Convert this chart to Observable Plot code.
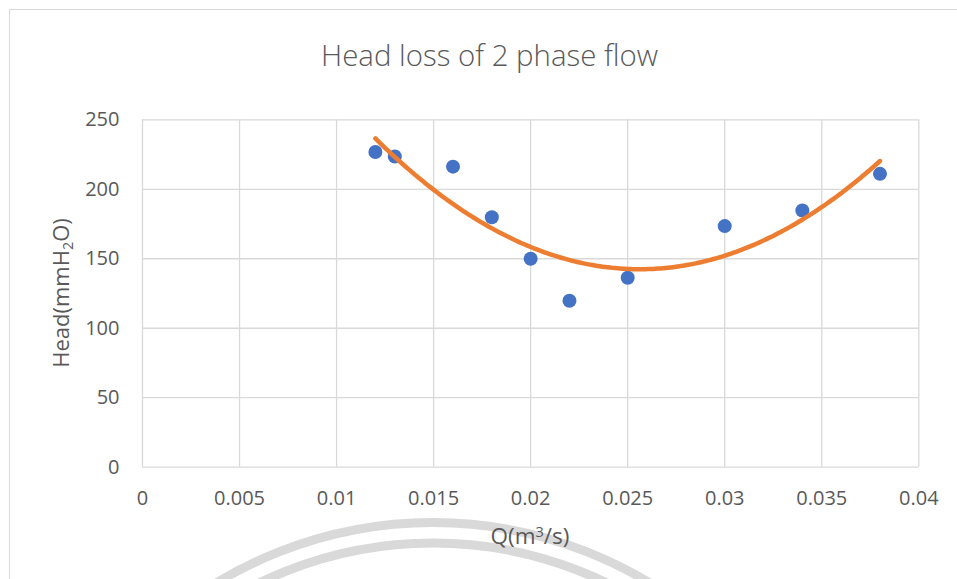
<!DOCTYPE html>
<html>
<head>
<meta charset="utf-8">
<script src="https://cdn.jsdelivr.net/npm/d3@7"></script>
<script src="https://cdn.jsdelivr.net/npm/@observablehq/plot@0.6"></script>
<style>
  html, body { margin: 0; padding: 0; background: #fff; }
  body { width: 957px; height: 579px; overflow: hidden; position: relative; font-family: "Open Sans", "Noto Sans", sans-serif; }
  #frame { position: absolute; left: 9px; top: 9px; width: 1100px; height: 800px; border: 1px solid #d9d9d9; box-sizing: border-box; }
  #wm { position: absolute; left: 0; top: 0; }
  #chart { position: absolute; left: 0; top: 0; }
  .txt { position: absolute; color: #595959; white-space: nowrap; line-height: 1; }
  #title { left: 489.5px; top: 41px; font-size: 29.4px; font-weight: 300; transform: translateX(-50%); }
  #xlabel { left: 530px; top: 536px; font-size: 22.5px; transform: translate(-50%, -50%); }
  #ylabel { left: 60px; top: 293px; font-size: 22px; transform: translate(-50%, -50%) rotate(-90deg); }
  sub { font-size: 0.65em; vertical-align: -0.25em; line-height: 0; }
  sup { font-size: 0.65em; vertical-align: 0.45em; line-height: 0; }
</style>
</head>
<body>
<div id="frame"></div>
<svg id="wm" width="957" height="579" aria-hidden="true">
  <circle cx="433" cy="941" r="418.5" fill="none" stroke="#d9d9d9" stroke-width="9"></circle>
  <circle cx="433" cy="941" r="398" fill="none" stroke="#d9d9d9" stroke-width="9"></circle>
</svg>
<div id="chart"></div>
<div id="title" class="txt">Head loss of 2 phase flow</div>
<div id="xlabel" class="txt">Q(m<sup>3</sup>/s)</div>
<div id="ylabel" class="txt">Head(mmH<sub>2</sub>O)</div>
<script>
// Data
const flowQ = [0.012, 0.013, 0.016, 0.018, 0.020, 0.022, 0.025, 0.030, 0.034, 0.038];
const headMm = [226.8, 223.6, 216.3, 179.9, 150.0, 119.8, 136.3, 173.5, 184.7, 211.1];
const xTicks = [0, 0.005, 0.01, 0.015, 0.02, 0.025, 0.03, 0.035, 0.04];
const yTicks = [0, 50, 100, 150, 200, 250];

const points = flowQ.map((q, i) => ({q, h: headMm[i]}));

// Order-2 polynomial trendline (least squares fit of the data, as Excel does)
function polyFit2(xs, ys) {
  const n = xs.length;
  const S = k => d3.sum(xs, x => x ** k);
  const T = k => d3.sum(xs, (x, i) => x ** k * ys[i]);
  const A = [[n, S(1), S(2), T(0)], [S(1), S(2), S(3), T(1)], [S(2), S(3), S(4), T(2)]];
  for (let c = 0; c < 3; c++) {
    let p = c;
    for (let r = c + 1; r < 3; r++) if (Math.abs(A[r][c]) > Math.abs(A[p][c])) p = r;
    [A[c], A[p]] = [A[p], A[c]];
    for (let r = 0; r < 3; r++) {
      if (r === c) continue;
      const f = A[r][c] / A[c][c];
      for (let k = c; k < 4; k++) A[r][k] -= f * A[c][k];
    }
  }
  return [A[0][3] / A[0][0], A[1][3] / A[1][1], A[2][3] / A[2][2]];
}
const [c0, c1, c2] = polyFit2(flowQ, headMm);
const qMin = d3.min(flowQ), qMax = d3.max(flowQ);
const trend = d3.range(0, 201).map(i => {
  const q = qMin + (qMax - qMin) * i / 200;
  return {q, h: c0 + c1 * q + c2 * q * q};
});

const chart = Plot.plot({
  width: 957,
  height: 579,
  marginLeft: 142,
  marginRight: 38.7,
  marginTop: 119.3,
  marginBottom: 112.3,
  style: {background: "transparent", color: "#595959", fontFamily: "'Open Sans', 'Noto Sans', sans-serif", fontSize: "20px", overflow: "visible"},
  x: {domain: [0, 0.04]},
  y: {domain: [0, 250]},
  marks: [
    Plot.gridX({ticks: xTicks, stroke: "#d9d9d9", strokeOpacity: 1, strokeWidth: 1.3}),
    Plot.gridY({ticks: yTicks, stroke: "#d9d9d9", strokeOpacity: 1, strokeWidth: 1.3}),
    Plot.axisX({ticks: xTicks, tickSize: 0, tickPadding: 24, tickFormat: d => String(d), label: null, fontSize: 20}),
    Plot.axisY({ticks: yTicks, tickSize: 0, tickPadding: 23, label: null, fontSize: 20}),
    Plot.dot(points, {x: "q", y: "h", r: 7, fill: "#4472C4", stroke: "none"}),
    Plot.line(trend, {x: "q", y: "h", stroke: "#ED7D31", strokeWidth: 4.5, strokeLinecap: "round"})
  ]
});
document.getElementById("chart").appendChild(chart);
</script>
</body>
</html>
